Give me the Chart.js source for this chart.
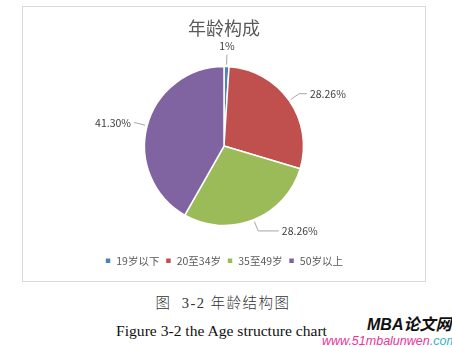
<!DOCTYPE html>
<html><head><meta charset="utf-8">
<script src="https://cdn.jsdelivr.net/npm/chart.js@4.4.0/dist/chart.umd.min.js"></script>
<style>
html,body{margin:0;padding:0;background:#fff;width:452px;height:347px;overflow:hidden;}
body{position:relative;}
#frame{position:absolute;left:22px;top:6px;width:402px;height:274px;border:1px solid #d9d9d9;}
#frame canvas{display:block;}
.cap1{position:absolute;left:0;width:446px;top:294px;text-align:center;font-size:14.5px;font-family:"Liberation Serif","Noto Sans CJK SC",serif;font-weight:300;letter-spacing:1.5px;color:#333;line-height:18px;white-space:pre;}
.cap2{position:absolute;left:0;width:443px;top:322px;text-align:center;font-size:15.6px;font-family:"Liberation Serif",serif;color:#111;line-height:18px;white-space:pre;}
.wm1{position:absolute;left:367px;top:316px;font:italic bold 16px "Liberation Sans","Noto Sans CJK SC",sans-serif;color:#111;line-height:18px;white-space:pre;}
.wm2{position:absolute;left:322px;top:334px;font:italic 12.5px "Liberation Sans",sans-serif;color:#e8359b;line-height:14px;white-space:pre;}
.wm2 span{color:#35b3c9;}
</style></head>
<body>
<div id="frame"><canvas id="c" width="402" height="274"></canvas></div>
<div class="cap1">图  3-2 年龄结构图</div>
<div class="cap2">Figure 3-2 the Age structure chart</div>
<div class="wm1">MBA论文网</div>
<div class="wm2">www.51mbalunwen<span>.com</span></div>
<script>
const categories = ["19岁以下", "20至34岁", "35至49岁", "50岁以上"];
const values = [1, 28.26, 28.26, 41.30];
const valueLabels = ["1%", "28.26%", "28.26%", "41.30%"];
const colors = ["#4F81BD", "#C0504D", "#9BBB59", "#8064A2"];

const outLabels = {
  id: 'outLabels',
  afterDatasetsDraw(chart) {
    const ctx = chart.ctx;
    const meta = chart.getDatasetMeta(0);
    ctx.save();
    ctx.font = '10.5px "Noto Sans CJK SC", "Noto Sans", sans-serif';
    ctx.fillStyle = '#404040';
    ctx.strokeStyle = '#a6a6a6';
    ctx.lineWidth = 1;
    meta.data.forEach((arc, i) => {
      const p = arc.getProps(['x', 'y', 'startAngle', 'endAngle', 'outerRadius'], true);
      const mid = (p.startAngle + p.endAngle) / 2;
      const hx = Math.cos(mid), vy = Math.sin(mid);
      const r = p.outerRadius;
      const x1 = p.x + hx * (r + 2), y1 = p.y + vy * (r + 2);
      const x2 = p.x + hx * (r + 12), y2 = p.y + vy * (r + 12);
      ctx.beginPath();
      ctx.moveTo(x1, y1);
      ctx.lineTo(x2, y2);
      if (Math.abs(hx) < 0.15) {
        ctx.stroke();
        ctx.textAlign = 'center';
        ctx.textBaseline = vy < 0 ? 'bottom' : 'top';
        ctx.fillText(valueLabels[i], p.x + hx * (r + 15), p.y + vy * (r + 15));
      } else {
        const sg = hx > 0 ? 1 : -1;
        const x3 = x2 + sg * 24 * vy * vy;
        ctx.lineTo(x3, y2);
        ctx.stroke();
        ctx.textAlign = sg > 0 ? 'left' : 'right';
        ctx.textBaseline = 'middle';
        ctx.fillText(valueLabels[i], x3 + sg * 3, y2);
      }
    });
    ctx.restore();
  }
};

new Chart(document.getElementById('c'), {
  type: 'pie',
  data: {
    labels: categories,
    datasets: [{
      data: values,
      backgroundColor: colors,
      borderColor: '#ffffff',
      borderWidth: 1.5,
      radius: 79.5
    }]
  },
  options: {
    responsive: false,
    animation: false,
    layout: { padding: { top: 0, bottom: 5, left: 0, right: 0 } },
    plugins: {
      title: {
        display: true,
        text: '年龄构成',
        color: '#595959',
        font: { size: 18, family: '"Noto Sans CJK SC", sans-serif', weight: 'normal' },
        padding: { top: 10, bottom: 4 }
      },
      legend: {
        position: 'bottom',
        labels: {
          color: '#595959',
          boxWidth: 6,
          boxHeight: 6,
          padding: 6,
          font: { size: 10.5, family: '"Noto Sans CJK SC", sans-serif' }
        }
      },
      tooltip: { enabled: false }
    }
  },
  plugins: [outLabels]
});
</script>
</body></html>
